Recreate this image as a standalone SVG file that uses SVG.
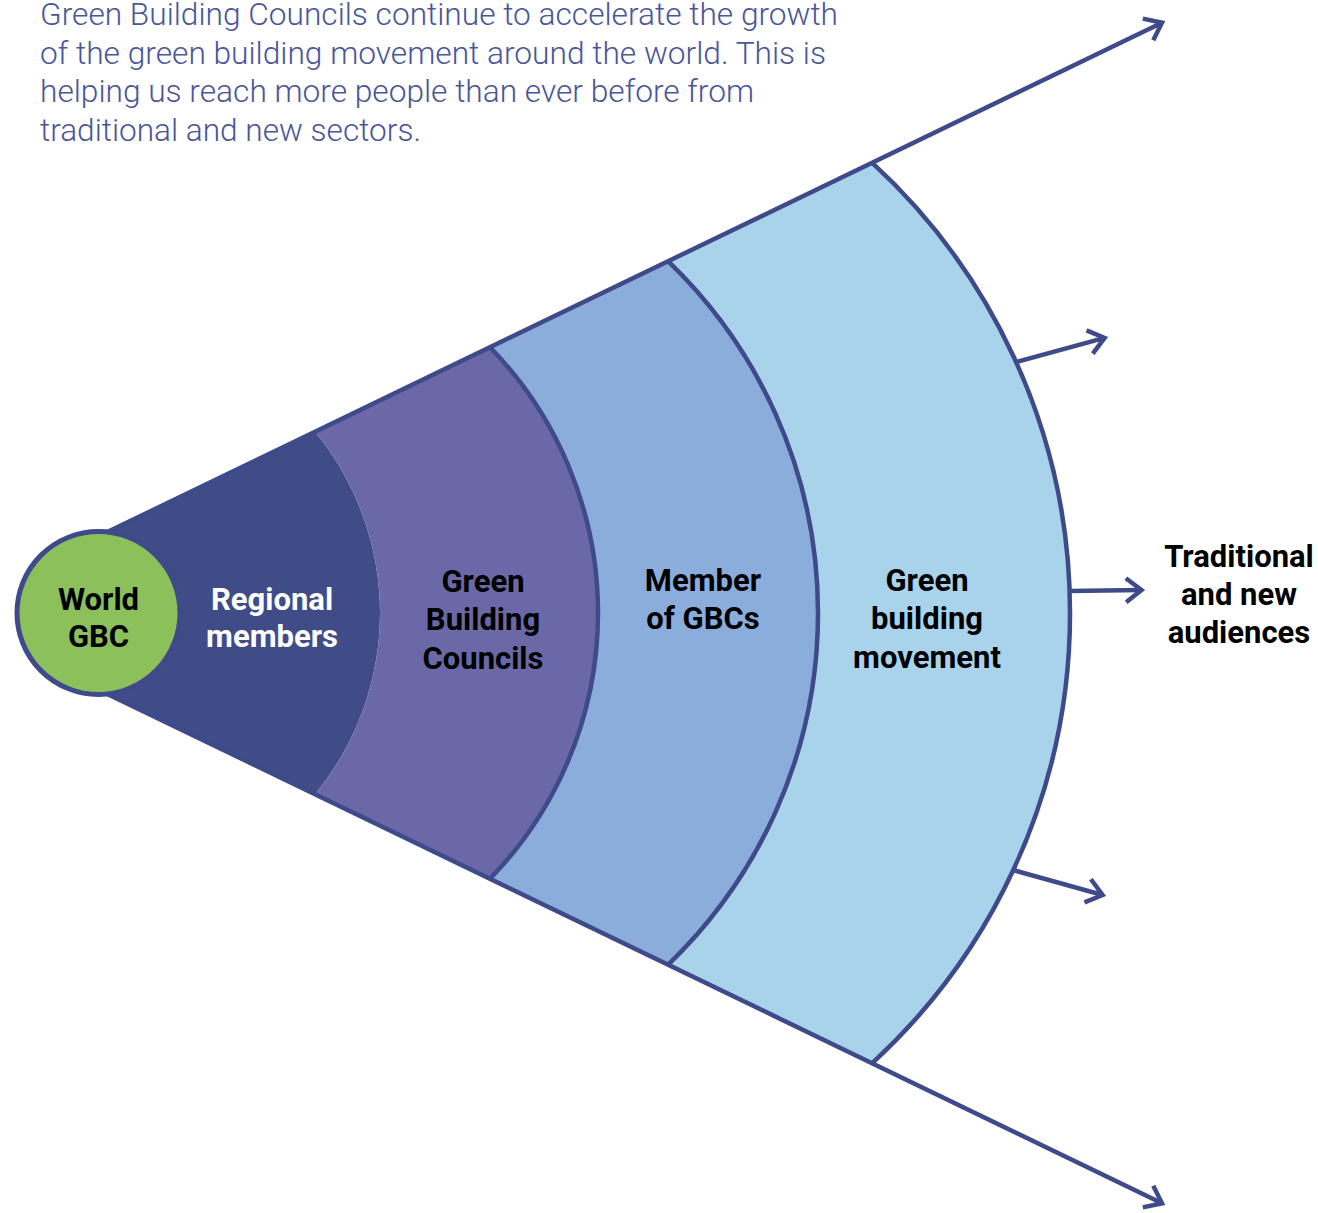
<svg xmlns="http://www.w3.org/2000/svg" width="1318" height="1213" viewBox="0 0 1318 1213">
<style>
.edge{fill:none;stroke:#3E4A8A;stroke-width:4.5}
.title{font-family:Roboto,"Liberation Sans",sans-serif;font-weight:300;font-size:31px;fill:#4A559A}
.lbl{font-family:Roboto,"Liberation Sans",sans-serif;font-weight:700;font-size:31px;fill:#000;text-anchor:middle}
.w{fill:#fff}
</style>
<defs>
<marker id="arr" markerUnits="userSpaceOnUse" viewBox="-20 -16 26 32" markerWidth="26" markerHeight="32" refX="0" refY="0" orient="auto" overflow="visible">
<path d="M-15.5,-12 L0,0 L-15.5,12" fill="none" stroke="#3E4A8A" stroke-width="4.5"/>
</marker>
</defs>
<g id="title">
<text class="title" x="40" y="25" textLength="798" lengthAdjust="spacingAndGlyphs">Green Building Councils continue to accelerate the growth</text>
<text class="title" x="40" y="63.5" textLength="786" lengthAdjust="spacingAndGlyphs">of the green building movement around the world. This is</text>
<text class="title" x="40" y="102" textLength="714" lengthAdjust="spacingAndGlyphs">helping us reach more people than ever before from</text>
<text class="title" x="40" y="140.5" textLength="381" lengthAdjust="spacingAndGlyphs">traditional and new sectors.</text>
</g>
<g id="regional">
<path d="M100,535.6 L315,431.7 A285.35,285.35 0 0 1 315,794.3 L100,690.4 Z" fill="#3F4C87"/>
</g>
<g id="gbc">
<path d="M315,431.7 L490,347.2 A381.1,381.1 0 0 1 490,878.8 L315,794.3 A285.35,285.35 0 0 0 315,431.7 Z" fill="#6B68A8"/>
</g>
<g id="members">
<path d="M490,347.2 L668,261.2 A487.5,487.5 0 0 1 668,964.8 L490,878.8 A381.1,381.1 0 0 0 490,347.2 Z" fill="#8AADDC"/>
</g>
<g id="movement">
<path d="M668,261.2 L872,162.7 A611,611 0 0 1 872,1063.3 L668,964.8 A487.5,487.5 0 0 0 668,261.2 Z" fill="#A9D3EA"/>
</g>
<g id="connectors">
<path class="edge" d="M490,347.2 A381.1,381.1 0 0 1 490,878.8"/>
<path class="edge" d="M668,261.2 A487.5,487.5 0 0 1 668,964.8"/>
<path class="edge" d="M872,162.7 A611,611 0 0 1 872,1063.3"/>
<path class="edge" d="M100,535.6 L1162,22.7" marker-end="url(#arr)"/>
<path class="edge" d="M100,690.4 L1162,1203.3" marker-end="url(#arr)"/>
<path class="edge" d="M1016,362 L1104.6,337.9" marker-end="url(#arr)"/>
<path class="edge" d="M1069,591 L1141.5,590" marker-end="url(#arr)"/>
<path class="edge" d="M1013,870 L1102.6,895" marker-end="url(#arr)"/>
</g>
<g id="world">
<circle cx="98.5" cy="613" r="81.5" fill="#8BC05B" stroke="#3E4A8A" stroke-width="5"/>
<text class="lbl" x="98.5" y="610">World</text>
<text class="lbl" x="98.5" y="647">GBC</text>
</g>
<g id="regional-label">
<text class="lbl w" x="272" y="610">Regional</text>
<text class="lbl w" x="272" y="647">members</text>
</g>
<g id="gbc-label">
<text class="lbl" x="483" y="592">Green</text>
<text class="lbl" x="483" y="630">Building</text>
<text class="lbl" x="483" y="669">Councils</text>
</g>
<g id="members-label">
<text class="lbl" x="703" y="591">Member</text>
<text class="lbl" x="703" y="629">of GBCs</text>
</g>
<g id="movement-label">
<text class="lbl" x="927" y="591">Green</text>
<text class="lbl" x="927" y="629">building</text>
<text class="lbl" x="927" y="668">movement</text>
</g>
<g id="audiences">
<text class="lbl" x="1239" y="567">Traditional</text>
<text class="lbl" x="1239" y="605">and new</text>
<text class="lbl" x="1239" y="643">audiences</text>
</g>
</svg>
